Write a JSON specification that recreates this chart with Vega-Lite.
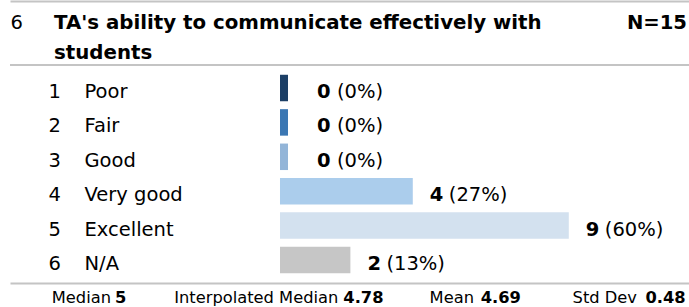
{
  "$schema": "https://vega.github.io/schema/vega-lite/v6.json",
  "width": 679,
  "height": 218,
  "autosize": {"type": "none"},
  "padding": {"left": 10, "top": 65, "right": 0, "bottom": 24},
  "background": "white",
  "config": {"view": {"stroke": null}, "font": "DejaVu Sans"},
  "title": {
    "text": ["TA's ability to communicate effectively with", "students"],
    "anchor": "start",
    "frame": "group",
    "dx": 44,
    "dy": 78,
    "baseline": "alphabetic",
    "font": "DejaVu Sans",
    "fontSize": 19.8,
    "fontWeight": "bold",
    "color": "#000000",
    "lineHeight": 30,
    "offset": 0
  },
  "datasets": {
    "rows": [
      {"label": "Poor", "count": 0, "pct": "(0%)"},
      {"label": "Fair", "count": 0, "pct": "(0%)"},
      {"label": "Good", "count": 0, "pct": "(0%)"},
      {"label": "Very good", "count": 4, "pct": "(27%)"},
      {"label": "Excellent", "count": 9, "pct": "(60%)"},
      {"label": "N/A", "count": 2, "pct": "(13%)"}
    ],
    "stats": [
      {"stat": "Median", "value": "5"},
      {"stat": "Interpolated Median", "value": "4.78"},
      {"stat": "Mean", "value": "4.69"},
      {"stat": "Std Dev", "value": "0.48"}
    ]
  },
  "layer": [
    {
      "data": {"name": "rows"},
      "mark": {"type": "bar"},
      "encoding": {
        "y": {
          "field": "label", "type": "nominal",
          "scale": {"domain": ["Poor", "Fair", "Good", "Very good", "Excellent", "N/A"], "paddingInner": 0.23, "paddingOuter": 0.284},
          "axis": {
            "orient": "left", "title": null, "domain": false, "ticks": false, "tickSize": 0, "grid": false,
            "labelAlign": "left", "labelPadding": -74, "labelBaseline": "alphabetic", "labelOffset": 10,
            "labelFont": "DejaVu Sans", "labelFontSize": 19.5, "labelColor": "#000000", "labelLimit": 0
          }
        },
        "x": {
          "field": "count", "type": "quantitative",
          "scale": {"domain": [-8.910, 12.853], "nice": false, "zero": false},
          "axis": {
            "orient": "top", "offset": 64, "domain": true, "domainColor": "#c4c4c4", "domainWidth": 2,
            "labels": false, "ticks": false, "grid": false,
            "title": "N=15", "titleX": 676.5, "titleY": 27, "titleAlign": "right", "titleAnchor": "end",
            "titleBaseline": "alphabetic", "titleAngle": 0, "titleFont": "DejaVu Sans", "titleFontSize": 19.6,
            "titleFontWeight": "bold", "titleColor": "#000000"
          }
        },
        "x2": {"datum": -0.2564},
        "color": {
          "field": "label", "type": "nominal",
          "scale": {"domain": ["Poor", "Fair", "Good", "Very good", "Excellent", "N/A"], "range": ["#1c3f66", "#3b77b3", "#93b5d8", "#abcdec", "#d3e1ef", "#c6c6c6"]},
          "legend": null
        }
      }
    },
    {
      "data": {"name": "rows"},
      "transform": [{"filter": "datum.label == 'Poor'"}],
      "mark": {"type": "rule", "color": "#c4c4c4", "strokeWidth": 2},
      "encoding": {
        "y": {"field": "label", "type": "nominal", "bandPosition": -0.369, "axis": null}
      }
    },
    {
      "data": {"name": "rows"},
      "transform": [{"filter": "datum.count > 0"}],
      "mark": {"type": "text", "align": "left", "baseline": "alphabetic", "dx": 17, "dy": 10, "font": "DejaVu Sans", "fontSize": 19.5, "fontWeight": "bold", "color": "#000000"},
      "encoding": {
        "y": {"field": "label", "type": "nominal", "axis": null},
        "x": {"field": "count", "type": "quantitative", "scale": {"domain": [-8.910, 12.853], "nice": false, "zero": false}, "axis": null},
        "text": {"field": "count", "type": "quantitative"}
      }
    },
    {
      "data": {"name": "rows"},
      "transform": [{"filter": "datum.count > 0"}],
      "mark": {"type": "text", "align": "left", "baseline": "alphabetic", "dx": 36, "dy": 10, "font": "DejaVu Sans", "fontSize": 19.5, "color": "#000000"},
      "encoding": {
        "y": {
          "field": "label", "type": "nominal",
          "axis": {
            "orient": "left", "domain": false, "ticks": false, "tickSize": 0, "grid": false,
            "labelAlign": "left", "labelPadding": -38, "labelBaseline": "alphabetic", "labelOffset": 10,
            "labelExpr": "format(round(datum.index * 5) + 1, 'd')",
            "labelFont": "DejaVu Sans", "labelFontSize": 19.5, "labelColor": "#000000",
            "title": "6", "titleX": 0, "titleY": -37, "titleAngle": 0, "titleAlign": "left", "titleBaseline": "alphabetic",
            "titleFont": "DejaVu Sans", "titleFontSize": 19.5, "titleFontWeight": "normal", "titleColor": "#000000"
          }
        },
        "x": {"field": "count", "type": "quantitative", "scale": {"domain": [-8.910, 12.853], "nice": false, "zero": false}, "axis": null},
        "text": {"field": "pct", "type": "nominal"}
      }
    },
    {
      "data": {"name": "rows"},
      "transform": [{"filter": "datum.count == 0"}],
      "mark": {"type": "text", "align": "left", "baseline": "alphabetic", "dx": 29, "dy": 10, "font": "DejaVu Sans", "fontSize": 19.5, "fontWeight": "bold", "color": "#000000"},
      "encoding": {
        "y": {"field": "label", "type": "nominal", "axis": null},
        "x": {"field": "count", "type": "quantitative", "scale": {"domain": [-8.910, 12.853], "nice": false, "zero": false}, "axis": null},
        "text": {"field": "count", "type": "quantitative"}
      }
    },
    {
      "data": {"name": "rows"},
      "transform": [{"filter": "datum.count == 0"}],
      "mark": {"type": "text", "align": "left", "baseline": "alphabetic", "dx": 49, "dy": 10, "font": "DejaVu Sans", "fontSize": 19.5, "color": "#000000"},
      "encoding": {
        "y": {"field": "label", "type": "nominal", "axis": null},
        "x": {"field": "count", "type": "quantitative", "scale": {"domain": [-8.910, 12.853], "nice": false, "zero": false}, "axis": null},
        "text": {"field": "pct", "type": "nominal"}
      }
    },
    {
      "data": {"name": "stats"},
      "mark": {
        "type": "text", "align": "right", "baseline": "alphabetic", "dy": 129,
        "dx": {"expr": "datum.stat == 'Median' ? 101 : datum.stat == 'Interpolated Median' ? 102 : datum.stat == 'Mean' ? 11.3 : -52"},
        "font": "DejaVu Sans", "fontSize": 16.3, "color": "#000000"
      },
      "encoding": {
        "x": {
          "field": "stat", "type": "nominal",
          "scale": {"type": "point", "domain": ["Median", "Interpolated Median", "Mean", "Std Dev"], "padding": 0},
          "axis": {"orient": "bottom", "domain": true, "domainColor": "#c4c4c4", "domainWidth": 2, "labels": false, "ticks": false, "grid": false, "title": null}
        },
        "text": {"field": "stat", "type": "nominal"}
      }
    },
    {
      "data": {"name": "stats"},
      "mark": {
        "type": "text", "align": "left", "baseline": "alphabetic", "dy": 129,
        "dx": {"expr": "datum.stat == 'Median' ? 105 : datum.stat == 'Interpolated Median' ? 107 : datum.stat == 'Mean' ? 18 : -43.5"},
        "font": "DejaVu Sans", "fontSize": 16.3, "fontWeight": "bold", "color": "#000000"
      },
      "encoding": {
        "x": {
          "field": "stat", "type": "nominal",
          "scale": {"type": "point", "domain": ["Median", "Interpolated Median", "Mean", "Std Dev"], "padding": 0},
          "axis": null
        },
        "text": {"field": "value", "type": "nominal"}
      }
    }
  ],
  "resolve": {"scale": {"x": "independent"}, "axis": {"x": "independent", "y": "independent"}}
}
